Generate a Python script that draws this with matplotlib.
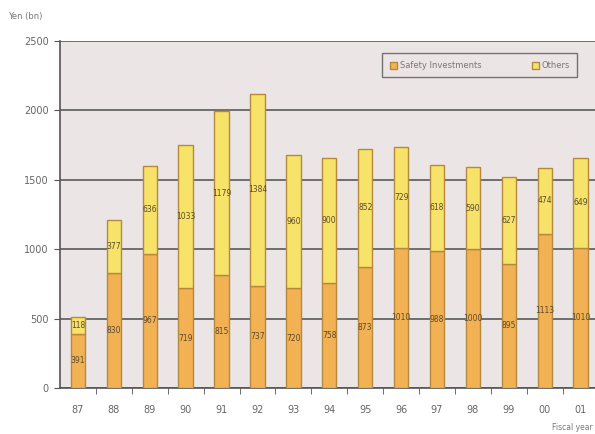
import matplotlib.pyplot as plt
import numpy as np

years = ['87', '88', '89', '90', '91', '92', '93', '94', '95', '96', '97', '98', '99', '00', '01']
safety = [391, 830, 967, 719, 815, 737, 720, 758, 873, 1010, 988, 1000, 895, 1113, 1010]
others = [118, 377, 636, 1033, 1179, 1384, 960, 900, 852, 729, 618, 590, 627, 474, 649]
yticks = [0, 500, 1000, 1500, 2000, 2500]

fig = plt.figure(figsize=(5.95, 4.34), dpi=100)
fig.patch.set_facecolor('white')
ax = fig.add_axes([60/595, 1 - 388/434, 1 - 60/595, (388 - 41)/434])
ax.set_facecolor('#ece5e6')

x = np.arange(len(years))
w = 0.4
b1 = ax.bar(x, safety, w, color='#f2b153', edgecolor='#b58a3c', linewidth=1.0,
            label='Safety Investments', zorder=3)
b2 = ax.bar(x, others, w, bottom=safety, color='#f7e26a', edgecolor='#b58a3c',
            linewidth=1.0, label='Others', zorder=3)

lab = dict(label_type='center', fontsize=5.5, color='#5a4a30')
ax.bar_label(b1, labels=[str(v) for v in safety], **lab)
ax.bar_label(b2, labels=[str(v) for v in others], **lab)

ax.set_xlim(-0.5, 14.4)
ax.set_ylim(0, 2500)
ax.set_yticks(yticks)
ax.set_yticklabels([str(v) for v in yticks], fontsize=7, color='#666666')
ax.yaxis.grid(True, color='#5a5a5a', linewidth=1.2, zorder=1)
ax.set_axisbelow(True)

ax.set_xticks(x)
ax.set_xticklabels(years, fontsize=7, color='#666666')
ax.tick_params(axis='x', length=0, pad=12)
ax.set_xticks(x[:-1] + 0.5, minor=True)
ax.tick_params(axis='x', which='minor', length=4, color='#555555', direction='out')
ax.tick_params(axis='y', length=4, color='#555555', pad=4)

for s in ['top', 'right']:
    ax.spines[s].set_visible(False)
ax.spines['left'].set_color('#555555')
ax.spines['bottom'].set_color('#555555')
ax.spines['left'].set_linewidth(1.2)
ax.spines['bottom'].set_linewidth(1.2)

leg = ax.legend(loc='upper right', bbox_to_anchor=(0.975, 0.976), ncol=2, fontsize=6,
                frameon=True, fancybox=False, edgecolor='#555555', facecolor='#ece5e6',
                handlelength=0.9, handleheight=0.9, columnspacing=6, borderpad=0.9,
                handletextpad=0.3)
for t in leg.get_texts():
    t.set_color('#777777')
leg.get_frame().set_linewidth(1.0)

fig.text(8/595, 1 - 16/434, 'Yen (bn)', fontsize=6, color='#777777', va='center')
fig.text(593/595, 1 - 428/434, 'Fiscal year', fontsize=5.5, color='#777777',
         ha='right', va='center')

fig.savefig('out.png', dpi=100, facecolor='white')
